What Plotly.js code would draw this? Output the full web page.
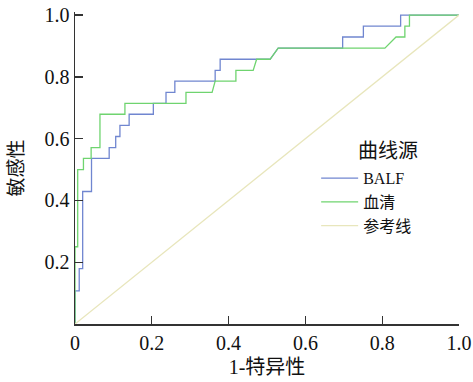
<!DOCTYPE html>
<html>
<head>
<meta charset="utf-8">
<script src="https://cdn.plot.ly/plotly-3.0.1.min.js"></script>
<style>html,body{margin:0;padding:0;background:#fff;}</style>
</head>
<body>
<div id="chart" style="width:473px;height:382px;"></div>
<script>
// BALF ROC curve (1 - specificity, sensitivity)
const balfFpr = [0,0,0.011,0.011,0.02,0.02,0.043,0.043,0.089,0.089,0.106,0.106,0.117,0.117,0.141,0.141,0.204,0.204,0.237,0.237,0.26,0.26,0.365,0.365,0.378,0.378,0.508,0.529,0.697,0.697,0.751,0.751,0.848,0.848,1];
const balfTpr = [0,0.107,0.107,0.179,0.179,0.429,0.429,0.536,0.536,0.571,0.571,0.607,0.607,0.643,0.643,0.679,0.679,0.714,0.714,0.75,0.75,0.786,0.786,0.821,0.821,0.857,0.857,0.893,0.893,0.929,0.929,0.964,0.964,1,1];
// Serum ROC curve
const serumFpr = [0,0,0.007,0.007,0.022,0.022,0.042,0.042,0.065,0.065,0.13,0.13,0.289,0.289,0.357,0.365,0.419,0.419,0.464,0.473,0.508,0.529,0.807,0.836,0.859,0.859,0.871,0.871,1];
const serumTpr = [0,0.25,0.25,0.5,0.5,0.536,0.536,0.571,0.571,0.679,0.679,0.714,0.714,0.75,0.75,0.786,0.786,0.821,0.821,0.857,0.857,0.893,0.893,0.929,0.929,0.964,0.964,1,1];
// Reference line
const refX = [0,1];
const refY = [0,1];

const seriesNames = ["BALF","血清","参考线"];
const legendTitle = "曲线源";
const xTickVals = [0,0.2,0.4,0.6,0.8,1.0];
const xTickText = ["0","0.2","0.4","0.6","0.8","1.0"];
const yTickVals = [0.2,0.4,0.6,0.8,1.0];
const yTickText = ["0.2","0.4","0.6","0.8","1.0"];
const xTitle = "1-特异性";
const yTitle = "敏感性";

const FONT = '"Liberation Serif","Times New Roman","Noto Sans CJK SC",serif';

const traces = [
  {x: balfFpr, y: balfTpr, name: seriesNames[0], mode: 'lines', line: {color: '#7086d0', width: 1.3, shape: 'linear'}},
  {x: serumFpr, y: serumTpr, name: seriesNames[1], mode: 'lines', line: {color: '#6fd46f', width: 1.3, shape: 'linear'}},
  {x: refX, y: refY, name: seriesNames[2], mode: 'lines', line: {color: '#e8e6bc', width: 1.3}}
];

const axisCommon = {
  showgrid: false, zeroline: false, showline: true, linecolor: '#333', linewidth: 1.5,
  ticks: 'inside', ticklen: 8, tickwidth: 1.3, tickcolor: '#333',
  tickfont: {family: FONT, size: 20, color: '#111'}, tickmode: 'array'
};

const layout = {
  width: 473, height: 382,
  margin: {l: 75, r: 14, t: 12, b: 58},
  paper_bgcolor: '#fff', plot_bgcolor: '#fff',
  font: {family: FONT, color: '#111'},
  showlegend: true,
  legend: {
    x: 0.628, y: 0.522, xanchor: 'left', yanchor: 'top',
    font: {family: FONT, size: 16, color: '#111'},
    itemwidth: 37, bgcolor: 'rgba(0,0,0,0)', tracegroupgap: 0
  },
  xaxis: Object.assign({}, axisCommon, {
    range: [0, 1], tickvals: xTickVals, ticktext: xTickText,
    title: {text: xTitle, font: {family: FONT, size: 20, color: '#111'}, standoff: 7}
  }),
  yaxis: Object.assign({}, axisCommon, {
    range: [0, 1.01], tickvals: yTickVals, ticktext: yTickText,
    title: {text: yTitle, font: {family: FONT, size: 19, color: '#111'}, standoff: 16}
  }),
  annotations: [{
    text: legendTitle, xref: 'paper', yref: 'paper', x: 0.815, y: 0.555,
    xanchor: 'center', yanchor: 'middle', showarrow: false,
    font: {family: FONT, size: 20, color: '#111'}
  }]
};

Plotly.newPlot('chart', traces, layout, {displayModeBar: false, staticPlot: true});
</script>
</body>
</html>
